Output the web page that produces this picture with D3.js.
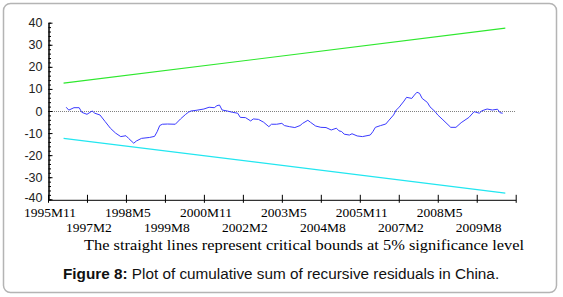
<!DOCTYPE html>
<html>
<head>
<meta charset="utf-8">
<script src="https://cdn.jsdelivr.net/npm/d3@7"></script>
<style>
  body { margin: 0; background: #fff; }
  svg { display: block; }
</style>
</head>
<body>
<script>
var width = 563,
    height = 297;

// recursive residuals cusum
var periods = ["1996M6","1996M7","1996M9","1996M11","1996M12","1997M2","1997M4","1997M5","1997M7","1997M9",
  "1997M11","1998M1","1998M3","1998M5","1998M6","1998M8","1998M9","1998M11","1999M2","1999M4",
  "1999M5","1999M6","1999M7","1999M9","1999M12","2000M2","2000M4","2000M5","2000M6","2000M8",
  "2000M11","2001M1","2001M3","2001M4","2001M5","2001M6","2001M8","2001M10","2001M12","2002M1",
  "2002M3","2002M5","2002M6","2002M8","2002M10","2002M12","2003M1","2003M3","2003M5","2003M6",
  "2003M8","2003M10","2003M12","2004M1","2004M3","2004M4","2004M6","2004M8","2004M10","2004M12",
  "2005M2","2005M3","2005M4","2005M5","2005M7","2005M8","2005M10","2005M12","2006M3","2006M4",
  "2006M5","2006M7","2006M9","2006M10","2006M12","2007M1","2007M2","2007M4","2007M5","2007M7",
  "2007M8","2007M9","2007M10","2007M11","2008M1","2008M2","2008M4","2008M5","2008M7","2008M10",
  "2008M12","2009M2","2009M5","2009M7","2009M9","2009M10","2009M12","2010M2","2010M4","2010M5","2010M6"];
var cusum = [1.7,0.4,1.5,1.5,-0.6,-1.5,0,-1,-1.8,-4.8,
  -7.8,-10,-11.6,-11.2,-12.4,-14.6,-13.6,-12.4,-12,-11.5,
  -9.4,-6.6,-6,-5.9,-6,-3.6,-1.5,-0.6,0,0.3,
  0.9,1.7,1.5,2.4,2.7,0.45,0,-0.6,-1,-2.9,
  -3,-4.5,-3.6,-3.8,-5.1,-7.1,-6,-6,-5.6,-6.6,
  -7.1,-7.5,-6.6,-5.6,-4.2,-5.1,-6.8,-7.4,-7.5,-8.6,
  -7.8,-9,-9.3,-10.5,-10.9,-10.3,-11.3,-11.6,-10.9,-9.4,
  -7.4,-6.6,-5.9,-4.5,-1.8,0.45,1.5,4.5,6.2,5.7,
  7.2,8.5,8,5.7,3.9,1.9,-0.3,-1.8,-4,-7.4,
  -7.4,-5.3,-2.9,-0.3,-1,0.1,0.9,0.45,0.8,-0.8,-1];

// 5% critical bounds
var boundPeriods = ["1996M5", "2010M7"];
var upperBound = [12.6, 37.5];
var lowerBound = [-12.4, -37.2];

var xTicks = ["1995M11","1997M2","1998M5","1999M8","2000M11","2002M2","2003M5",
  "2004M8","2005M11","2007M2","2008M5","2009M8","2010M11"];
var yTicks = [-40, -30, -20, -10, 0, 10, 20, 30, 40];

function monthIndex(s) {
  var p = s.split("M").map(Number);
  return (p[0] - 1995) * 12 + (p[1] - 11);
}

var svg = d3.select("body").append("svg")
    .attr("width", width)
    .attr("height", height);

// frame
svg.append("rect")
    .attr("x", 3.5).attr("y", 3.5)
    .attr("width", 553).attr("height", 289)
    .attr("rx", 7)
    .attr("fill", "#fff")
    .attr("stroke", "#b4b4b4")
    .attr("stroke-width", 1.5);

var x = d3.scaleLinear().domain([0, 180]).range([48, 515.7]);
var y = d3.scaleLinear().domain([-40, 40]).range([199.3, 22.7]);

// zero line
svg.append("line")
    .attr("x1", x(0)).attr("x2", x(180))
    .attr("y1", y(0) + 0.5).attr("y2", y(0) + 0.5)
    .attr("stroke", "#808080")
    .attr("stroke-dasharray", "1,1");

// y axis, minor ticks every 2 then major every 10
var yMinor = svg.append("g")
    .attr("transform", "translate(" + (x(0) + 0.5) + ",0)")
    .call(d3.axisLeft(y).tickValues(d3.range(-40, 41, 2)).tickFormat("").tickSize(2.5).tickSizeOuter(0));
yMinor.selectAll(".tick line").attr("x2", 2.5);

var yAxis = svg.append("g")
    .attr("transform", "translate(" + (x(0) + 0.5) + ",0)")
    .call(d3.axisLeft(y).tickValues(yTicks).tickFormat(function(d) { return String(d); })
      .tickSize(4).tickSizeOuter(0).tickPadding(2));
yAxis.selectAll(".tick line").attr("x2", 4);
yAxis.selectAll("text")
    .style("font-family", "'Liberation Sans', Arial, sans-serif")
    .style("font-size", "12.5px")
    .attr("fill", "#222");
yAxis.selectAll(".tick").filter(function(d) { return d === -40; })
    .select("text").attr("dy", "0.2em");
svg.selectAll(".domain").attr("stroke", "#000");

// x axis
var xAxis = svg.append("g")
    .attr("transform", "translate(0," + (y(-40) + 0.5) + ")")
    .call(d3.axisBottom(x).tickValues(xTicks.map(monthIndex)).tickFormat("").tickSize(3).tickSizeOuter(0));
xAxis.selectAll(".tick line").attr("y1", -5);
xAxis.select(".domain").attr("stroke", "#000");

svg.append("g").selectAll("text")
    .data(xTicks.slice(0, xTicks.length - 1))
    .enter().append("text")
    .attr("x", function(d) { return x(monthIndex(d)) + 2; })
    .attr("y", function(d, i) { return i % 2 === 0 ? 216.5 : 232; })
    .attr("text-anchor", "middle")
    .style("font-family", "'Liberation Serif', 'Times New Roman', serif")
    .style("font-size", "13.5px")
    .attr("fill", "#000")
    .text(function(d) { return d; });

// bounds
var boundLine = d3.line()
    .x(function(d) { return x(monthIndex(d[0])); })
    .y(function(d) { return y(d[1]); });

svg.append("path")
    .datum(d3.zip(boundPeriods, upperBound))
    .attr("d", boundLine)
    .attr("fill", "none")
    .attr("stroke", "#2ee82e")
    .attr("stroke-width", 1.2);

svg.append("path")
    .datum(d3.zip(boundPeriods, lowerBound))
    .attr("d", boundLine)
    .attr("fill", "none")
    .attr("stroke", "#22e6f0")
    .attr("stroke-width", 1.2);

// cusum line
svg.append("path")
    .datum(d3.zip(periods, cusum))
    .attr("d", boundLine)
    .attr("fill", "none")
    .attr("stroke", "#3a3aff")
    .attr("stroke-width", 1);

// note and caption
svg.append("text")
    .attr("x", 84).attr("y", 250)
    .attr("textLength", 440)
    .attr("lengthAdjust", "spacingAndGlyphs")
    .style("font-family", "'Liberation Serif', 'Times New Roman', serif")
    .style("font-size", "15px")
    .attr("fill", "#000")
    .text("The straight lines represent critical bounds at 5% significance level");

var cap = svg.append("text")
    .attr("x", 63).attr("y", 279)
    .style("font-family", "'Liberation Sans', Arial, sans-serif")
    .style("font-size", "15.3px")
    .attr("fill", "#111");
cap.append("tspan").style("font-weight", "bold").text("Figure 8:");
cap.append("tspan").text(" Plot of cumulative sum of recursive residuals in China.");
</script>
</body>
</html>
